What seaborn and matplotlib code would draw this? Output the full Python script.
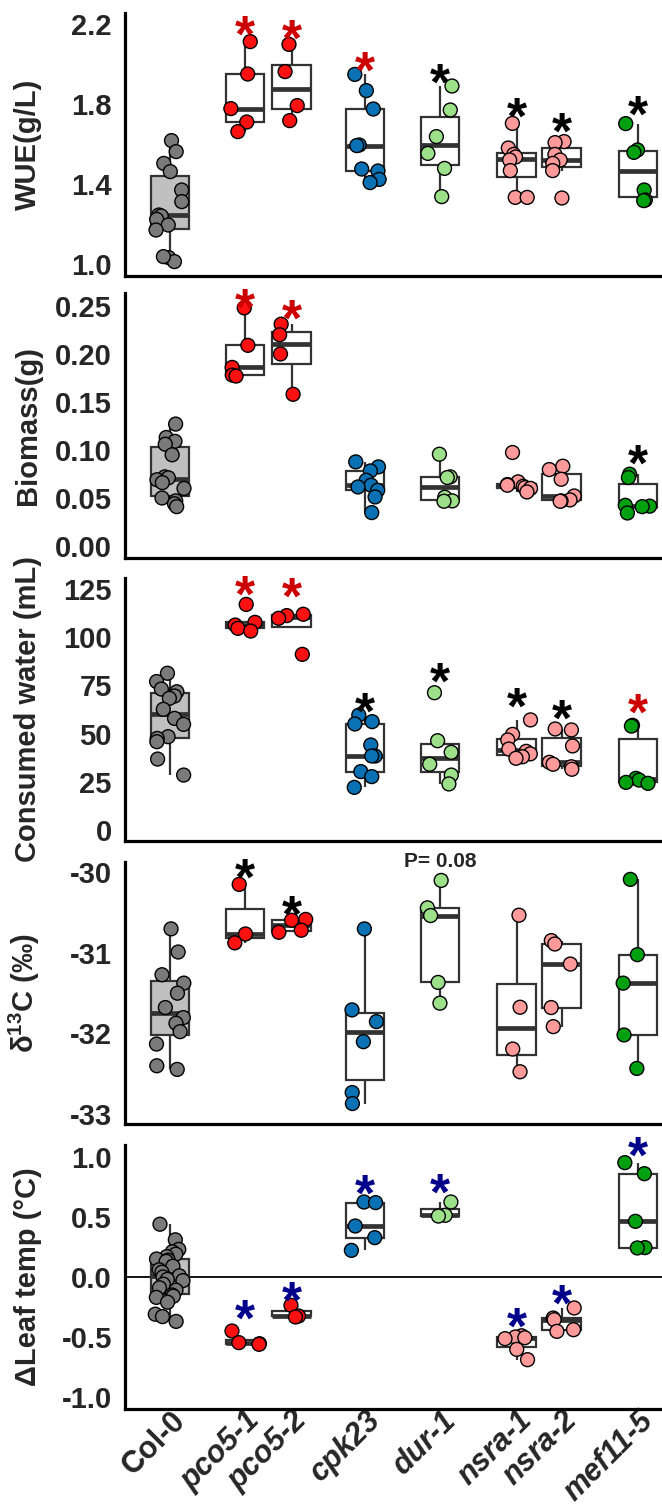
import matplotlib
matplotlib.use("Agg")
import matplotlib.pyplot as plt
import matplotlib.transforms as mtransforms
import numpy as np
import pandas as pd
import seaborn as sns

genotypes = ["Col-0", "pco5-1", "pco5-2", "cpk23", "dur-1", "nsra-1", "nsra-2", "mef11-5"]

wue = {
    "Col-0": [1.617, 1.562, 1.503, 1.462, 1.370, 1.312, 1.245, 1.240, 1.223, 1.195, 1.170, 1.032, 1.012, 1.037],
    "pco5-1": [2.112, 1.950, 1.777, 1.710, 1.662],
    "pco5-2": [2.098, 1.962, 1.792, 1.717],
    "cpk23": [1.948, 1.867, 1.775, 1.595, 1.592, 1.475, 1.465, 1.423, 1.407],
    "dur-1": [1.890, 1.770, 1.637, 1.553, 1.478, 1.337],
    "nsra-1": [1.703, 1.580, 1.548, 1.535, 1.520, 1.467, 1.333, 1.333],
    "nsra-2": [1.612, 1.607, 1.548, 1.520, 1.503, 1.467, 1.330],
    "mef11-5": [1.702, 1.570, 1.558, 1.370, 1.320, 1.317],
}

biomass = {
    "Col-0": [0.127, 0.113, 0.109, 0.106, 0.095, 0.072, 0.071, 0.069, 0.066, 0.060, 0.050, 0.047, 0.044, 0.041],
    "pco5-1": [0.248, 0.209, 0.186, 0.178, 0.177],
    "pco5-2": [0.231, 0.220, 0.200, 0.158],
    "cpk23": [0.0876, 0.0824, 0.0782, 0.0685, 0.0633, 0.0615, 0.058, 0.0511, 0.0348],
    "dur-1": [0.0956, 0.0720, 0.0713, 0.0508, 0.0470, 0.0466],
    "nsra-1": [0.0974, 0.0668, 0.0640, 0.0633, 0.0622, 0.0608, 0.0600, 0.0563],
    "nsra-2": [0.0831, 0.0796, 0.0695, 0.0521, 0.0480, 0.0470, 0.0466],
    "mef11-5": [0.0748, 0.0713, 0.0424, 0.0415, 0.0410, 0.0344],
}

water = {
    "Col-0": [81.3, 77.0, 73.1, 71.7, 69.5, 68.3, 62.6, 57.9, 54.8, 48.4, 47.5, 45.8, 36.8, 28.5],
    "pco5-1": [117.0, 107.7, 106.3, 104.6, 103.2],
    "pco5-2": [111.9, 111.2, 109.8, 91.1],
    "cpk23": [59.6, 56.2, 55.0, 44.1, 38.4, 38.4, 30.3, 27.7, 22.1],
    "dur-1": [71.2, 46.3, 40.3, 34.1, 28.5, 23.9],
    "nsra-1": [57.1, 49.6, 46.7, 42.0, 40.8, 39.5, 38.0, 37.2],
    "nsra-2": [52.4, 51.9, 43.6, 35.1, 34.1, 32.8, 31.5],
    "mef11-5": [54.3, 53.9, 26.8, 25.9, 24.7, 24.2],
}

d13c = {
    "Col-0": [-30.707, -30.993, -31.274, -31.378, -31.502, -31.680, -31.804, -31.874, -31.978, -32.131, -32.400, -32.445],
    "pco5-1": [-30.157, -30.770, -30.880],
    "pco5-2": [-30.590, -30.600, -30.724, -30.749],
    "cpk23": [-30.707, -31.709, -31.854, -32.102, -32.731, -32.867],
    "dur-1": [-30.108, -30.447, -30.542, -31.369, -31.626],
    "nsra-1": [-30.538, -31.676, -32.193, -32.474],
    "nsra-2": [-30.852, -30.894, -31.142, -31.680, -31.916],
    "mef11-5": [-30.095, -31.026, -31.378, -32.019, -32.433],
}

leaf_temp = {
    "Col-0": [0.44, 0.31, 0.23, 0.21, 0.19, 0.17, 0.15, 0.14, 0.13, 0.09, 0.06, 0.04, 0.01, 0.0,
              -0.02, -0.03, -0.06, -0.09, -0.11, -0.15, -0.16, -0.17, -0.21, -0.31, -0.33, -0.37],
    "pco5-1": [-0.450, -0.547, -0.556, -0.561],
    "pco5-2": [-0.236, -0.325, -0.333],
    "cpk23": [0.625, 0.620, 0.425, 0.328, 0.222],
    "dur-1": [0.625, 0.514, 0.508],
    "nsra-1": [-0.490, -0.500, -0.506, -0.514, -0.603, -0.689],
    "nsra-2": [-0.258, -0.342, -0.356, -0.439, -0.453],
    "mef11-5": [0.953, 0.861, 0.464, 0.245, 0.242],
}

# significance stars: (genotype, y, colour)
RED, NAVY = "#cc0000", "#00008b"
wue_stars = [("pco5-1", 2.212, RED), ("pco5-2", 2.19, RED), ("cpk23", 2.033, RED),
             ("dur-1", 1.97, "black"), ("nsra-1", 1.803, "black"),
             ("nsra-2", 1.728, "black"), ("mef11-5", 1.812, "black")]
biomass_stars = [("pco5-1", 0.2615, RED), ("pco5-2", 0.25, RED), ("mef11-5", 0.0998, "black")]
water_stars = [("pco5-1", 128.8, RED), ("pco5-2", 127.9, RED), ("cpk23", 68.3, "black"),
               ("dur-1", 83.5, "black"), ("nsra-1", 70.9, "black"),
               ("nsra-2", 64.5, "black"), ("mef11-5", 67.4, RED)]
d13c_stars = [("pco5-1", -29.91, "black"), ("pco5-2", -30.364, "black")]
leaf_stars = [("pco5-1", -0.236, NAVY), ("pco5-2", -0.089, NAVY), ("cpk23", 0.80, NAVY),
              ("dur-1", 0.811, NAVY), ("nsra-1", -0.306, NAVY), ("nsra-2", -0.111, NAVY),
              ("mef11-5", 1.117, NAVY)]

# layout: genotypes sit on an uneven numeric axis (allelic lines grouped)
x_pos = {"Col-0": 0.0, "pco5-1": 1.0, "pco5-2": 1.62, "cpk23": 2.6, "dur-1": 3.6,
         "nsra-1": 4.62, "nsra-2": 5.22, "mef11-5": 6.24}

point_color = {"Col-0": "#7a7a7a", "pco5-1": "#ff1111", "pco5-2": "#ff1111",
               "cpk23": "#0a72b4", "dur-1": "#9de08a", "nsra-1": "#ff9a9a",
               "nsra-2": "#ff9a9a", "mef11-5": "#00a010"}
box_fill = {g: ("#c0c0c0" if g == "Col-0" else "white") for g in genotypes}

sns.set_style("white")
plt.rcParams["font.family"] = ["Liberation Sans", "DejaVu Sans"]
plt.rcParams["font.weight"] = "bold"
plt.rcParams["axes.unicode_minus"] = False
plt.rcParams["mathtext.fontset"] = "custom"
plt.rcParams["mathtext.bf"] = "Liberation Sans:bold"
plt.rcParams["mathtext.rm"] = "Liberation Sans:bold"

np.random.seed(3)

W, H = 662, 1506
fig = plt.figure(figsize=(W / 100, H / 100), dpi=100)
panel_px = [(13, 276), (293, 558), (578, 841), (862, 1124), (1145, 1409)]
left_px = 125
axes = [fig.add_axes([left_px / W, 1 - b / H, (W - left_px) / W, (b - t) / H]) for t, b in panel_px]

STAR_SIZE = 37


def draw_panel(ax, values, ylabel, ylim, yticks, yticklabels, stars):
    rows = [(g, x_pos[g], v) for g in genotypes for v in values[g]]
    df = pd.DataFrame(rows, columns=["genotype", "pos", "value"])
    sns.boxplot(data=df, x="pos", y="value", hue="genotype", hue_order=genotypes,
                palette=box_fill, saturation=1, native_scale=True, dodge=False,
                width=0.86, showfliers=False, linecolor="#333333", linewidth=1.6,
                medianprops={"linewidth": 3.4}, capprops={"visible": False},
                legend=False, ax=ax)
    sns.stripplot(data=df, x="pos", y="value", hue="genotype", hue_order=genotypes,
                  palette=point_color, native_scale=True, dodge=False, jitter=0.33,
                  size=10, edgecolor="black", linewidth=1, legend=False, ax=ax, zorder=3)
    for g, y, c in stars:
        ax.annotate("*", xy=(x_pos[g], y), xytext=(0, -0.585 * STAR_SIZE),
                    textcoords="offset points", ha="center", va="baseline",
                    fontsize=STAR_SIZE, fontweight="bold", color=c,
                    annotation_clip=False, zorder=4)
    ax.set_xlim(-0.6, 6.56)
    ax.set_ylim(*ylim)
    ax.set_yticks(yticks)
    ax.set_yticklabels(yticklabels)
    ax.set_xticks([x_pos[g] for g in genotypes])
    ax.set_xticklabels([])
    ax.set_xlabel("")
    ax.set_ylabel(ylabel, fontsize=21, fontweight="bold")
    ax.yaxis.set_label_coords(-0.155, 0.5)
    for s in ["top", "right"]:
        ax.spines[s].set_visible(False)
    for s in ["left", "bottom"]:
        ax.spines[s].set_linewidth(2.3)
        ax.spines[s].set_color("black")
    ax.tick_params(axis="y", direction="out", length=6.5, width=2.2, color="#333333",
                   labelsize=21, pad=3)
    ax.tick_params(axis="x", direction="in", length=5.5, width=2.2, color="#111111", pad=8)
    for lab in ax.get_yticklabels():
        lab.set_fontweight("bold")


draw_panel(axes[0], wue, "WUE(g/L)", (0.94, 2.255), [1.0, 1.4, 1.8, 2.2],
           ["1.0", "1.4", "1.8", "2.2"], wue_stars)
draw_panel(axes[1], biomass, "Biomass(g)", (-0.0125, 0.2635),
           [0, 0.05, 0.10, 0.15, 0.20, 0.25],
           ["0.00", "0.05", "0.10", "0.15", "0.20", "0.25"], biomass_stars)
draw_panel(axes[2], water, "Consumed water (mL)", (-5.7, 130.7), [0, 25, 50, 75, 100, 125],
           ["0", "25", "50", "75", "100", "125"], water_stars)
draw_panel(axes[3], d13c, r"δ$^{\mathbf{13}}$C (‰)", (-33.12, -29.88), [-33, -32, -31, -30],
           ["-33", "-32", "-31", "-30"], d13c_stars)
axes[3].text(x_pos["dur-1"], -29.876, "P= 0.08", ha="center", va="center",
             fontsize=15, fontweight="bold", clip_on=False)
axes[4].axhline(0, color="black", linewidth=1.3, zorder=0.9)
draw_panel(axes[4], leaf_temp, "ΔLeaf temp (°C)", (-1.1, 1.1), [-1.0, -0.5, 0.0, 0.5, 1.0],
           ["-1.0", "-0.5", "0.0", "0.5", "1.0"], leaf_stars)

ax = axes[4]
ax.set_xticklabels(genotypes, rotation=45, ha="right", va="center", rotation_mode="anchor",
                   fontsize=22, fontweight="bold")
for lab in ax.get_xticklabels():
    if lab.get_text() != "Col-0":
        lab.set_fontstyle("italic")
    lab.set_transform(lab.get_transform() + mtransforms.ScaledTranslation(8 / 72, 3 / 72, fig.dpi_scale_trans))

fig.savefig("out.png", dpi=100)
